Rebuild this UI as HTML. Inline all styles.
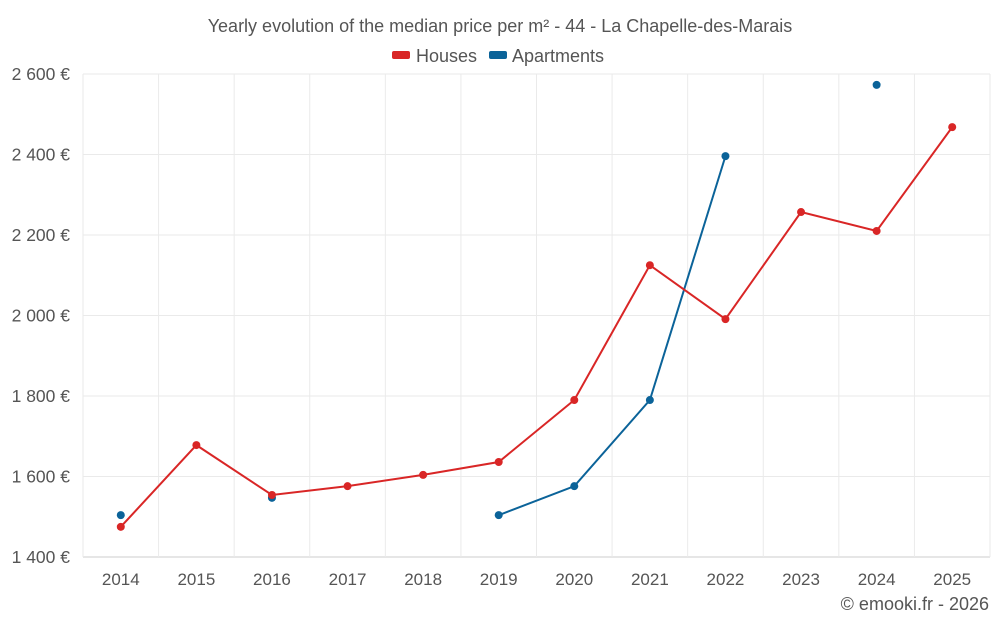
<!DOCTYPE html>
<html><head><meta charset="utf-8"><style>
body{margin:0;background:#fff;font-family:"Liberation Sans",sans-serif;}
svg text{font-family:"Liberation Sans",sans-serif;}
</style></head><body>
<svg id="chart" width="1000" height="625">
<text x="500" y="32" text-anchor="middle" font-size="18" fill="#555">Yearly evolution of the median price per m² - 44 - La Chapelle-des-Marais</text>
<g>
<g><rect x="392" y="51" width="18" height="8" rx="2" fill="#d92626"/><text x="416" y="62" font-size="18" fill="#555">Houses</text></g>
<g><rect x="489" y="51" width="18" height="8" rx="2" fill="#0b6399"/><text x="512" y="62" font-size="18" fill="#555">Apartments</text></g>
</g>
<g id="grid"></g><g id="axes"></g><g id="series"></g>
<text x="989" y="610" text-anchor="end" font-size="18" fill="#555">© emooki.fr - 2026</text>
</svg>
<script>
const years=[2014,2015,2016,2017,2018,2019,2020,2021,2022,2023,2024,2025];
const houses=[1475,1678,1554,1576,1604,1636,1790,2125,1991,2257,2210,2468];
const apartments=[1504,null,1547,null,null,1504,1576,1790,2396,null,2573,null];
const yTicks=[1400,1600,1800,2000,2200,2400,2600];
const L=83,R=990,T=74,B=557,yMin=1400,yMax=2600;
const bw=(R-L)/years.length;
const x=i=>L+bw*(i+0.5);
const y=v=>B-(v-yMin)/(yMax-yMin)*(B-T);
const NS="http://www.w3.org/2000/svg";
function mk(tag,attrs,parent,text){const e=document.createElementNS(NS,tag);for(const k in attrs)e.setAttribute(k,attrs[k]);if(text!=null)e.textContent=text;parent.appendChild(e);return e;}
const grid=document.getElementById('grid'),axes=document.getElementById('axes'),ser=document.getElementById('series');
yTicks.forEach(t=>{
 const l=mk('line',{x1:L,x2:R,y1:y(t),y2:y(t),stroke:t===yMin?'#ccc':'#eaeaea'},grid);
 
 
 const s=String(t).replace(/\B(?=(\d{3})+(?!\d))/g,' ')+' €';
 const tx=mk('text',{x:70,y:y(t)+6,'text-anchor':'end','font-size':17.5,fill:'#555'},axes,s);
 
 
});
for(let i=0;i<=years.length;i++){
 const l=mk('line',{x1:L+bw*i,x2:L+bw*i,y1:T,y2:B,stroke:'#eaeaea'},grid);
 
 
}
years.forEach((yr,i)=>{
 const tx=mk('text',{x:x(i),y:585,'text-anchor':'middle','font-size':17,fill:'#555'},axes,yr);
 
 
});
function draw(data,color,name){
 let segs=[],cur=[];
 data.forEach((v,i)=>{if(v==null){if(cur.length)segs.push(cur);cur=[];}else cur.push([x(i),y(v)]);});
 if(cur.length)segs.push(cur);
 segs.forEach(s=>{if(s.length>1){const p=mk('polyline',{points:s.map(q=>q.join(',')).join(' '),fill:'none',stroke:color,'stroke-width':2},ser);
  
  }});
 data.forEach((v,i)=>{if(v==null)return;const c=mk('circle',{cx:x(i),cy:y(v),r:4,fill:color},ser);
  
  });
}
draw(apartments,'#0b6399','apartments');
draw(houses,'#d92626','houses');
</script>
</body></html>
